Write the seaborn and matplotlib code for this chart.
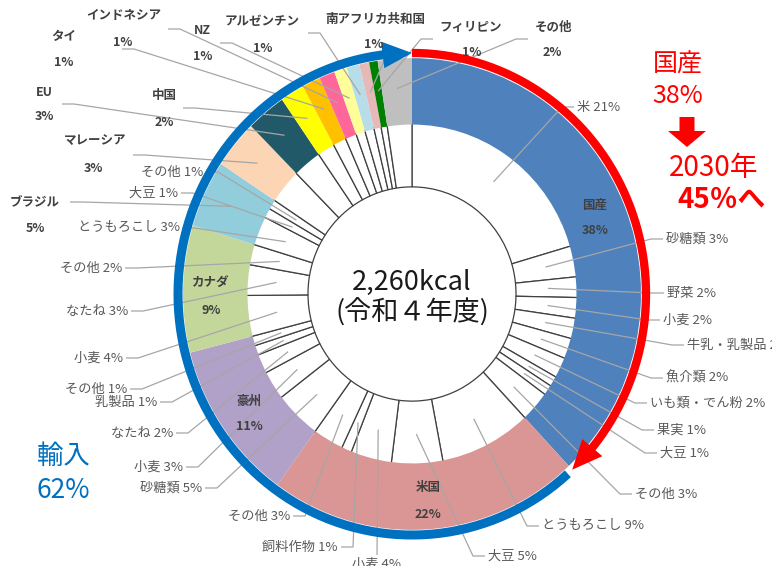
import numpy as np
import matplotlib
matplotlib.use("Agg")
import matplotlib.pyplot as plt
from matplotlib.patches import FancyArrow
import seaborn as sns

# outer ring: where the calories come from
countries = ["国産", "米国", "豪州", "カナダ", "ブラジル", "マレーシア", "EU", "中国",
             "タイ", "インドネシア", "NZ", "アルゼンチン", "南アフリカ共和国", "フィリピン", "その他"]
country_share = [38, 22, 11, 8.7, 4.6, 3.3, 2.8, 1.7, 1.3, 1.1, 0.9, 0.9, 0.7, 0.6, 2.4]
country_pct = ["38%", "22%", "11%", "9%", "5%", "3%", "3%", "2%",
               "1%", "1%", "1%", "1%", "1%", "1%", "2%"]
country_colors = ["#4F81BD", "#DA9694", "#B1A0C7", "#C4D79B", "#92CDDC", "#FCD5B4", "#215968",
                  "#FFFF00", "#FFC000", "#FF6699", "#FFFF99", "#B7DEE8", "#E6B9B8", "#008000", "#BFBFBF"]

# inner ring: breakdown by item
items_domestic = ["米", "砂糖類", "野菜", "小麦", "牛乳・乳製品", "魚介類", "いも類・でん粉", "果実", "大豆", "その他"]
vals_domestic = [21, 3, 2, 2, 2, 2, 2, 1, 1, 3]
items_us = ["とうもろこし", "大豆", "小麦", "飼料作物", "その他"]
vals_us = [9, 5, 4, 1, 3]
items_au = ["砂糖類", "小麦", "なたね", "乳製品", "その他"]
vals_au = [5, 3, 2, 1, 1]
items_ca = ["小麦", "なたね", "その他"]
vals_ca = [4, 3, 2]
items_br = ["とうもろこし", "大豆", "その他"]
vals_br = [3, 1, 1]
breakdown = {"国産": (items_domestic, vals_domestic), "米国": (items_us, vals_us),
             "豪州": (items_au, vals_au), "カナダ": (items_ca, vals_ca),
             "ブラジル": (items_br, vals_br)}

total_kcal = "2,260kcal"
fiscal_year = "(令和４年度)"
domestic_now, domestic_goal, goal_year = "38%", "45％へ", "2030年"
import_pct = "62%"

# ---------------------------------------------------------------- layout
W, H, K = 772, 566, 1.03


def P(x, y):
    return x, (H - y) / K


CX, CY = P(412, 294)
R_OUT, R_MID, R_IN = 229, 166, 104


def polar(f, r):
    a = np.deg2rad(90 - 360 * np.asarray(f))
    return CX + r * np.cos(a), CY + r * np.sin(a)


# label positions (pixel coords): x edge, y, alignment
inner_layout = [
    (577, 107, "left"), (666, 239, "left"), (667, 293, "left"), (663, 320, "left"),
    (687, 345, "left"), (666, 378, "left"), (650, 403, "left"), (657, 430, "left"),
    (660, 453, "left"), (635, 494, "left"),
    (542, 526, "left"), (488, 556, "left"), (352, 564, "bottom"), (338, 547, "right"),
    (290, 516, "right"),
    (202, 488, "right"), (183, 467, "right"), (173, 433, "right"), (157, 402, "right"),
    (127, 389, "right"),
    (123, 358, "right"), (128, 311, "right"), (122, 268, "right"),
    (180, 228, "right"), (178, 193, "right"), (203, 172, "right"),
]
# name x,y / pct x,y / leader start (None = inside ring)
country_layout = {
    "国産": (595, 205, 595, 231, None), "米国": (428, 488, 428, 514, None),
    "豪州": (249, 401, 249, 427, None), "カナダ": (211, 282, 211, 310, None),
    "ブラジル": (35, 203, 35, 228, (70, 202)), "マレーシア": (95, 140, 93, 168, (133, 155)),
    "EU": (44, 92, 44, 117, (62, 104)), "中国": (164, 96, 164, 122, (183, 108)),
    "タイ": (64, 36, 64, 62, (122, 49)), "インドネシア": (124, 16, 123, 42, (168, 29)),
    "NZ": (202, 30, 203, 56, (220, 43)), "アルゼンチン": (262, 21, 263, 48, (308, 33)),
    "南アフリカ共和国": (375, 19, 374, 45, (374, 56)), "フィリピン": (471, 27, 472, 53, (433, 39)),
    "その他": (554, 27, 552, 53, (528, 39)),
}

sns.set_theme(style="white")
plt.rcParams["font.family"] = ["Noto Sans CJK JP", "DejaVu Sans"]

# build inner ring values scaled into each country's share
inner_vals, inner_names = [], []
for c, share in zip(countries, country_share):
    if c in breakdown:
        items, vals = breakdown[c]
        for it, v in zip(items, vals):
            inner_vals.append(share * v / sum(vals))
            inner_names.append(f"{it} {v}%")
    else:
        inner_vals.append(share)
        inner_names.append(None)

fig = plt.figure(figsize=(7.72, 5.66), dpi=100)
ax = fig.add_axes([0, 0, 1, 1])

ax.pie(inner_vals, radius=R_MID, center=(CX, CY), startangle=90, counterclock=False,
       colors=["white"] * len(inner_vals), frame=True,
       wedgeprops=dict(width=R_MID - R_IN, edgecolor="#404040", linewidth=0.9))
ax.pie(country_share, radius=R_OUT, center=(CX, CY), startangle=90, counterclock=False,
       colors=country_colors, frame=True,
       wedgeprops=dict(width=R_OUT - R_MID + 1.5, linewidth=0))

ax.set_xlim(0, W)
ax.set_ylim(0, H / K)
ax.set_aspect("auto")
ax.axis("off")

LEAD = dict(color="#A6A6A6", lw=0.9, zorder=2.5, solid_capstyle="butt")

# inner labels + leader lines
tot = sum(inner_vals)
cum = np.cumsum(inner_vals) / tot
mids = cum - np.array(inner_vals) / tot / 2
labelled = [(n, m) for n, m in zip(inner_names, mids) if n is not None]
for (name, mid), (lx, ly, side) in zip(labelled, inner_layout):
    tx, ty = polar(mid, 136)
    x, y = P(lx, ly)
    if side == "left":
        ax.text(x, y, name, ha="left", va="center", fontsize=9.5, color="#595959", zorder=5)
        ax.plot([x - 3, x - 15, tx], [y, y, ty], **LEAD)
    elif side == "right":
        ax.text(x, y, name, ha="right", va="center", fontsize=9.5, color="#595959", zorder=5)
        ax.plot([x + 3, x + 15, tx], [y, y, ty], **LEAD)
    else:
        ax.text(x, y, name, ha="left", va="center", fontsize=9.5, color="#595959", zorder=5)
        sx, sy = P(lx + 25, ly - 9)
        ax.plot([sx, tx], [sy, ty], **LEAD)

# country labels
cum_c = np.cumsum(country_share) / sum(country_share)
mids_c = cum_c - np.array(country_share) / sum(country_share) / 2
for c, pct, mid in zip(countries, country_pct, mids_c):
    xn, yn, xp, yp, start = country_layout[c]
    ax.text(*P(xn, yn), c, ha="center", va="center", fontsize=9, fontweight="bold",
            color="#404040", zorder=5)
    ax.text(*P(xp, yp), pct, ha="center", va="center", fontsize=9, fontweight="bold",
            color="#404040", zorder=5)
    if start is not None:
        tx, ty = polar(mid, 200)
        sx, sy = P(*start)
        step = 12 if sx < CX - 20 else (-12 if sx > CX + 20 else 0)
        ax.plot([sx, sx + step, tx], [sy, sy, ty], **LEAD)

# domestic (red) and import (blue) arcs with arrow heads
f_dom = country_share[0] / sum(country_share)
R_ARC = 234


def arc(f0, f1, color, lw):
    fs = np.linspace(f0, f1, 200)
    xs, ys = polar(fs, R_ARC)
    ax.plot(xs, ys, color=color, lw=lw, solid_capstyle="butt", zorder=3)


def head(f_base, f_tip, color, half=13):
    b1 = polar(f_base, R_ARC - half)
    b2 = polar(f_base, R_ARC + half)
    tp = polar(f_tip, R_ARC)
    ax.fill([b1[0], b2[0], tp[0]], [b1[1], b2[1], tp[1]], color=color, lw=0, zorder=3)


arc(0, f_dom - 0.018, "#FF0000", 6)
head(f_dom - 0.02, f_dom, "#FF0000")
arc(f_dom + 0.004, 0.982, "#0070C0", 6.5)
head(0.98, 1.0, "#0070C0")

# centre text
ax.text(CX, P(0, 282)[1], total_kcal, ha="center", va="center", fontsize=19.5,
        color="#1A1A1A", zorder=5)
ax.text(CX, P(0, 313)[1], fiscal_year, ha="center", va="center", fontsize=19.5,
        color="#1A1A1A", zorder=5)

# domestic annotation
ax.text(*P(678, 64), "国産", ha="center", va="center", fontsize=18, color="#FF0000")
ax.text(*P(678, 96), domestic_now, ha="center", va="center", fontsize=18, color="#FF0000")
ax.add_patch(FancyArrow(*P(687, 117), 0, -30 / K, width=15, head_width=38,
                        head_length=16 / K, length_includes_head=True,
                        color="#FF0000", lw=0))
ax.text(*P(714, 168), goal_year, ha="center", va="center", fontsize=20, color="#FF0000")
ax.text(*P(677, 200), domestic_goal, ha="left", va="center", fontsize=20,
        fontweight="bold", color="#FF0000")

# import annotation
ax.text(*P(63, 456), "輸入", ha="center", va="center", fontsize=19, color="#0070C0")
ax.text(*P(63, 490), import_pct, ha="center", va="center", fontsize=19, color="#0070C0")

fig.savefig("out.png", dpi=100)
